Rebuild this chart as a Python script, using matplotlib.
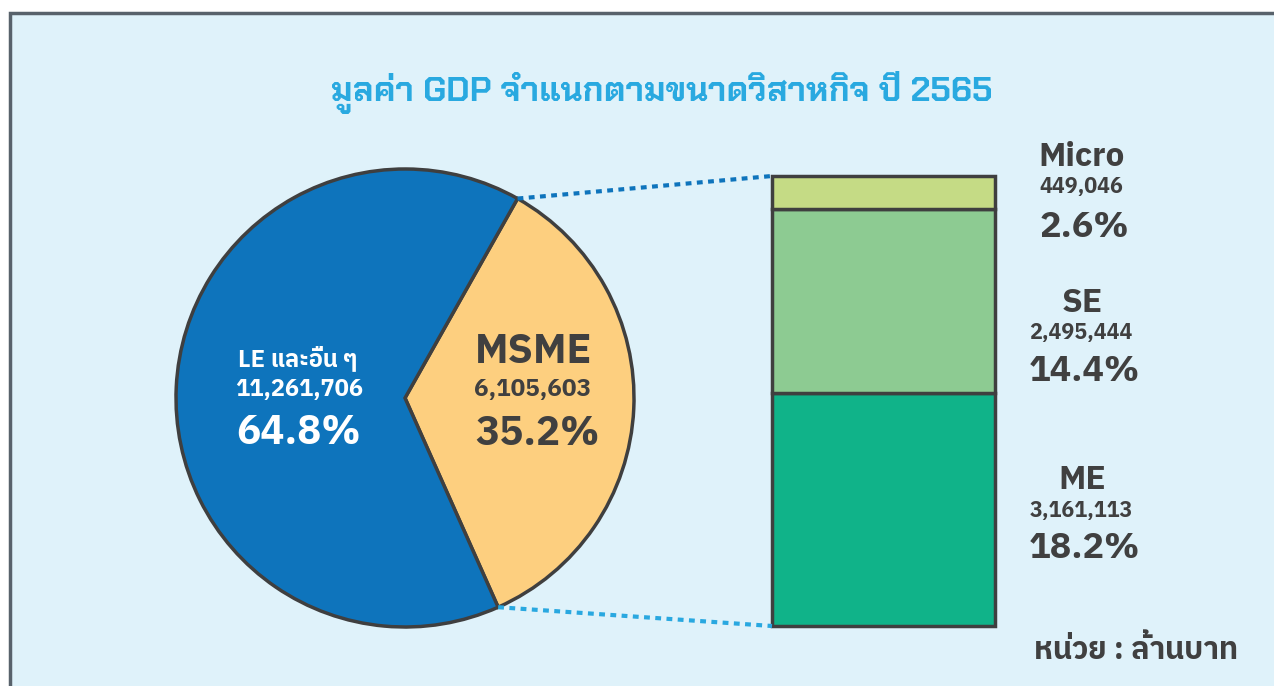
import matplotlib
matplotlib.use("Agg")
import matplotlib.pyplot as plt
import numpy as np
from matplotlib.patches import ConnectionPatch, Rectangle

# data (ล้านบาท)
title = "มูลค่า GDP จำแนกตามขนาดวิสาหกิจ ปี 2565"
pie_labels = ["MSME", "LE และอื่น ๆ"]
pie_values = [6105603, 11261706]
pie_pcts = ["35.2%", "64.8%"]
pie_colors = ["#FDCF7F", "#0E74BC"]

bar_labels = ["ME", "SE", "Micro"]
bar_values = [3161113, 2495444, 449046]
bar_pcts = ["18.2%", "14.4%", "2.6%"]
bar_colors = ["#10B389", "#8DCB92", "#C5DB85"]
unit_text = "หน่วย : ล้านบาท"

W, H = 1274, 686
DARK = "#404040"
EDGE = "#3F3F3F"
BODY = ["IBM Plex Sans Thai", "DejaVu Sans"]
TITLEF = ["Chakra Petch", "DejaVu Sans"]


def fx(x):
    return x / W


def fy(y):
    return 1 - y / H


fig = plt.figure(figsize=(W / 100, H / 100), dpi=100)
fig.patch.set_facecolor("white")

# panel background with grey frame on left/top
fig.patches.append(Rectangle((fx(10), -0.05), 1.1, fy(13) + 0.05, transform=fig.transFigure,
                             facecolor="#DFF2FA", edgecolor="#58626B", linewidth=2.5, zorder=-5))

fig.text(fx(662), fy(92), title, ha="center", va="center", fontsize=24.5,
         color="#29A9E0", weight="bold", family=TITLEF)

# pie
cx, cy, r = 405, 398, 229
ax_pie = fig.add_axes([fx(cx - r), fy(cy + r), 2 * r / W, 2 * r / H])
ax_pie.patch.set_visible(False)
wedges, _ = ax_pie.pie(pie_values, colors=pie_colors, startangle=-66, radius=1,
                       wedgeprops=dict(edgecolor=EDGE, linewidth=2.5))
ax_pie.set_xlim(-1, 1)
ax_pie.set_ylim(-1, 1)
ax_pie.set_aspect("equal")
ax_pie.axis("off")

# bar
bx0, bx1, by0, by1 = 772, 995, 176, 626
ax_bar = fig.add_axes([fx(bx0), fy(by1), (bx1 - bx0) / W, (by1 - by0) / H])
ax_bar.patch.set_visible(False)
bottom = 0
for v, c in zip(bar_values, bar_colors):
    ax_bar.bar(0, v, width=1, bottom=bottom, color=c, edgecolor=EDGE, linewidth=2.5, clip_on=False)
    bottom += v
ax_bar.set_xlim(-0.5, 0.5)
ax_bar.set_ylim(0, bottom)
ax_bar.axis("off")

# dotted connectors from MSME wedge edges to bar corners
w = wedges[0]
t1, t2 = np.radians(w.theta1), np.radians(w.theta2)
for ang, ybar, col in [(t2, bottom, "#0E74BC"), (t1, 0, "#29A8E0")]:
    con = ConnectionPatch(xyA=(np.cos(ang), np.sin(ang)), coordsA=ax_pie.transData,
                          xyB=(-0.5, ybar), coordsB=ax_bar.transData,
                          color=col, linewidth=3, linestyle=(0, (1.4, 1.3)),
                          capstyle="butt", zorder=5)
    fig.add_artist(con)

# pie labels
fig.text(fx(298), fy(358), pie_labels[1], ha="center", va="center", fontsize=17,
         color="white", weight="bold", family=BODY)
fig.text(fx(299), fy(389), f"{pie_values[1]:,}", ha="center", va="center", fontsize=17,
         color="white", weight="bold", family=BODY)
fig.text(fx(299), fy(433), pie_pcts[1], ha="center", va="center", fontsize=29,
         color="white", weight="bold", family=BODY)

fig.text(fx(534), fy(352), pie_labels[0], ha="center", va="center", fontsize=29.5,
         color=DARK, weight="bold", family=BODY)
fig.text(fx(533), fy(390), f"{pie_values[0]:,}", ha="center", va="center", fontsize=17.5,
         color=DARK, weight="bold", family=BODY)
fig.text(fx(537), fy(434), pie_pcts[0], ha="center", va="center", fontsize=29,
         color=DARK, weight="bold", family=BODY)

# bar labels (ME, SE, Micro)
label_y = [(480, 510, 549), (303, 333, 371), (157, 186, 227)]
for lab, v, p, (y1, y2, y3) in zip(bar_labels, bar_values, bar_pcts, label_y):
    fig.text(fx(1082), fy(y1), lab, ha="center", va="center", fontsize=24,
             color=DARK, weight="bold", family=BODY)
    fig.text(fx(1081), fy(y2), f"{v:,}", ha="center", va="center", fontsize=15.5,
             color=DARK, weight="bold", family=BODY)
    fig.text(fx(1084), fy(y3), p, ha="center", va="center", fontsize=26,
             color=DARK, weight="bold", family=BODY)

fig.text(fx(1238), fy(650), unit_text, ha="right", va="center", fontsize=22,
         color=DARK, weight="bold", family=BODY)

fig.savefig("out.png", dpi=100)
